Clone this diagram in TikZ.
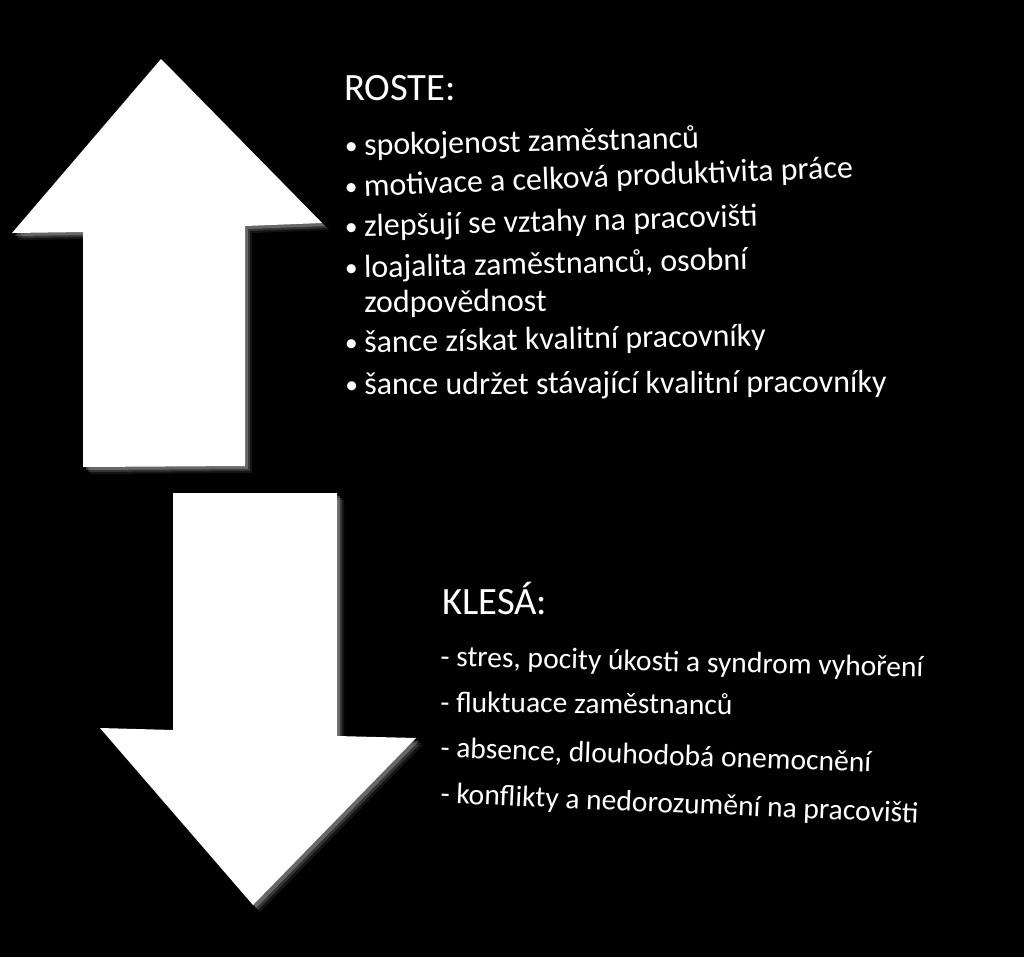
\documentclass[tikz,border=0pt]{standalone}
\usepackage{fontspec}
\setmainfont{Carlito}
\usetikzlibrary{positioning}

\newcommand{\bul}{\makebox[14.25pt][l]{\raisebox{0.06em}{\scalebox{0.8}{\textbullet}}}}
\tikzset{
  txt/.style={anchor=base west, text=white, inner sep=0pt},
  head/.style={txt, font=\fontsize{29}{34}\selectfont},
  upitem/.style={txt, font=\fontsize{24}{29}\selectfont},
  downitem/.style={txt, font=\fontsize{22.2}{27}\selectfont}
}

\begin{document}
\begin{tikzpicture}[x=0.75pt,y=-0.75pt]
	\fill[black] (0,0) rectangle (1024,957);
	\useasboundingbox (0,0) rectangle (1024,957);
	% arrows with soft glow
	\foreach \d/\o in {7/0.08,5/0.14,3/0.25,0/1}{
		\fill[white,opacity=\o,shift={(\d,\d)}] (161,59) -- (322,223) -- (245,226) -- (245,466) -- (83,467) -- (83,232) -- (12,233) -- cycle;
		\fill[white,opacity=\o,shift={(\d,\d)}] (173,493) -- (337,493) -- (337,736) -- (416,738) -- (253,905) -- (100,728) -- (173,730) -- cycle;
	}
	% ROSTE
	\node[head] (roste) at (344,100) {ROSTE:};
	\node[upitem, rotate=1.3] (r1) at (345,156) {\bul spokojenost zaměstnanců};
	\node[upitem, rotate=2.2] (r2) at (345,197) {\bul motivace a celková produktivita práce};
	\node[upitem, rotate=1.5] (r3) at (345,237) {\bul zlepšují se vztahy na pracovišti};
	\node[upitem, rotate=1.2] (r4) at (345,278) {\bul loajalita zaměstnanců, osobní};
	\node[upitem, rotate=0.5] (r5) at (345,313) {\makebox[14.25pt]{}zodpovědnost};
	\node[upitem, rotate=1] (r6) at (345,353) {\bul šance získat kvalitní pracovníky};
	\node[upitem, rotate=0.3] (r7) at (345,395) {\bul šance udržet stávající kvalitní pracovníky};
	% KLESÁ
	\node[head] (klesa) at (442,614) {KLESÁ:};
	\node[downitem, rotate=-1.3] (k1) at (440,666) {- stres, pocity úkosti a syndrom vyhoření};
	\node[downitem, rotate=-0.5] (k2) at (440,712) {- fluktuace zaměstnanců};
	\node[downitem, rotate=-2] (k3) at (440,757) {- absence, dlouhodobá onemocnění};
	\node[downitem, rotate=-2.4] (k4) at (440,803) {- konflikty a nedorozumění na pracovišti};
\end{tikzpicture}
\end{document}
